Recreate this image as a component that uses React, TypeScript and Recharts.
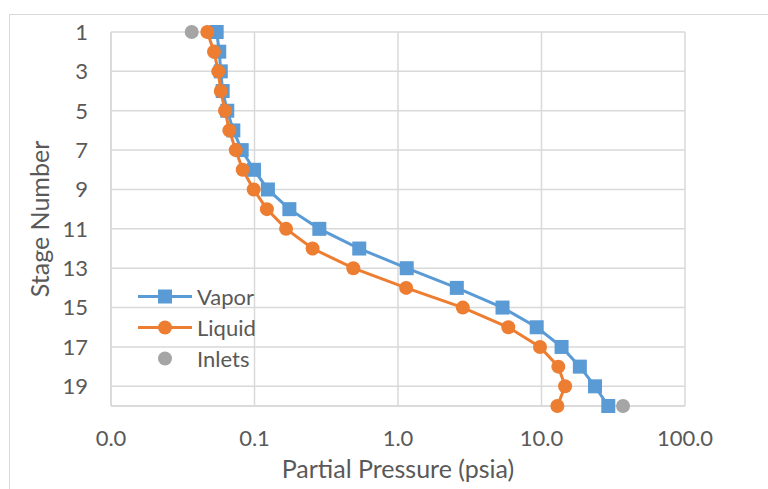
import React from 'react';
import { ScatterChart, Scatter, XAxis, YAxis, CartesianGrid, Legend } from 'recharts';

const stages = [1, 2, 3, 4, 5, 6, 7, 8, 9, 10, 11, 12, 13, 14, 15, 16, 17, 18, 19, 20];
const vaporPsia = [
  0.0545, 0.0568, 0.0582, 0.06, 0.0646, 0.0712, 0.0814, 0.0992, 0.124, 0.175,
  0.283, 0.537, 1.15, 2.57, 5.35, 9.26, 13.8, 18.5, 23.6, 29.2,
];
const liquidPsia = [
  0.0469, 0.0522, 0.0559, 0.0582, 0.0623, 0.0668, 0.074, 0.0827, 0.0987, 0.122,
  0.166, 0.254, 0.488, 1.14, 2.83, 5.87, 9.76, 13.1, 14.6, 12.9,
];
const inletStages = [1, 20];
const inletPsia = [0.0365, 37.0];

const xTicks = [0.01, 0.1, 1, 10, 100];
const yTicks = [1, 3, 5, 7, 9, 11, 13, 15, 17, 19];

const vaporData = stages.map((s, i) => ({ p: vaporPsia[i], stage: s }));
const liquidData = stages.map((s, i) => ({ p: liquidPsia[i], stage: s }));
const inletData = inletStages.map((s, i) => ({ p: inletPsia[i], stage: s }));

const BLUE = '#5B9BD5';
const ORANGE = '#ED7D31';
const GRAY = '#A5A5A5';
const GRID = '#D9D9D9';
const TEXT = '#595959';
const FONT = 'Lato, "Noto Sans", sans-serif';

const Square = (props: any) => (
  <rect x={props.cx - 7} y={props.cy - 7} width={14} height={14} fill={BLUE} />
);
const Dot = (color: string) => (props: any) => (
  <circle cx={props.cx} cy={props.cy} r={7} fill={color} />
);

const legendItems = [
  { name: 'Vapor', color: BLUE, line: true, mark: 'square' },
  { name: 'Liquid', color: ORANGE, line: true, mark: 'circle' },
  { name: 'Inlets', color: GRAY, line: false, mark: 'circle' },
];

const LegendBox = () => (
  <div style={{ fontFamily: FONT, fontSize: 22, color: TEXT }}>
    {legendItems.map(item => (
      <div key={item.name} style={{ display: 'flex', alignItems: 'center', height: 31 }}>
        <svg width={58} height={31}>
          {item.line && <line x1={2} y1={15.5} x2={56} y2={15.5} stroke={item.color} strokeWidth={3} />}
          {item.mark === 'square'
            ? <rect x={22} y={8.5} width={14} height={14} fill={item.color} />
            : <circle cx={29} cy={15.5} r={7} fill={item.color} />}
        </svg>
        <span style={{ marginLeft: 3 }}>{item.name}</span>
      </div>
    ))}
  </div>
);

export default function App() {
  return (
    <div style={{ position: 'absolute', left: 0, top: 0, width: 768, height: 489, overflow: 'hidden', background: '#fff' }}>
      <div style={{ position: 'absolute', left: 9, top: 14, width: 800, height: 520, border: `1px solid ${GRID}` }} />
      <div style={{ position: 'absolute', left: 0, top: 0 }}>
        <ScatterChart width={768} height={489} margin={{ top: 32, right: 83, bottom: 0, left: 0 }}>
          <CartesianGrid stroke={GRID} strokeWidth={1.5} />
          <XAxis
            type="number"
            dataKey="p"
            scale="log"
            domain={[0.01, 100]}
            ticks={xTicks}
            allowDataOverflow
            height={83}
            tickFormatter={(v: number) => v.toFixed(1)}
            tick={{ fill: TEXT, fontSize: 22, fontFamily: FONT }}
            tickLine={false}
            tickSize={0}
            tickMargin={24}
            axisLine={{ stroke: GRID, strokeWidth: 1.5 }}
            label={{ value: 'Partial Pressure (psia)', position: 'insideBottom', offset: 11, fill: TEXT, fontSize: 25, fontFamily: FONT }}
          />
          <YAxis
            type="number"
            dataKey="stage"
            reversed
            domain={[1, 20]}
            ticks={yTicks}
            width={111}
            tick={{ fill: TEXT, fontSize: 22, fontFamily: FONT }}
            tickLine={false}
            tickSize={0}
            tickMargin={23}
            axisLine={{ stroke: GRID, strokeWidth: 1.5 }}
            label={{ value: 'Stage Number', angle: -90, position: 'insideLeft', offset: 40, textAnchor: 'middle', fill: TEXT, fontSize: 25, fontFamily: FONT }}
          />
          <Legend
            layout="vertical"
            verticalAlign="middle"
            align="center"
            content={<LegendBox />}
            wrapperStyle={{ left: 136, top: 281, width: 140 }}
          />
          <Scatter
            name="Vapor"
            data={vaporData}
            line={{ stroke: BLUE, strokeWidth: 3 }}
            lineType="joint"
            shape={Square}
            isAnimationActive={false}
          />
          <Scatter
            name="Liquid"
            data={liquidData}
            line={{ stroke: ORANGE, strokeWidth: 3 }}
            lineType="joint"
            shape={Dot(ORANGE)}
            isAnimationActive={false}
          />
          <Scatter name="Inlets" data={inletData} shape={Dot(GRAY)} isAnimationActive={false} />
        </ScatterChart>
      </div>
    </div>
  );
}
